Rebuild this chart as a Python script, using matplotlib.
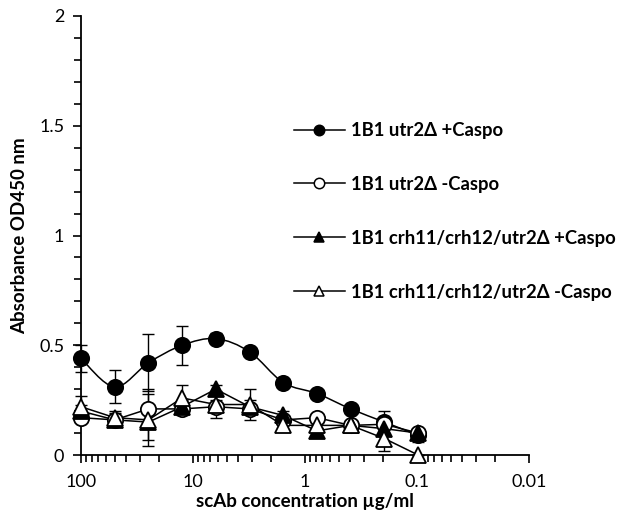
import numpy as np
import matplotlib
matplotlib.use("Agg")
import matplotlib.pyplot as plt
from matplotlib.path import Path
from matplotlib.patches import PathPatch
from matplotlib.lines import Line2D
from matplotlib.ticker import FixedLocator, LogLocator, NullFormatter

plt.rcParams['font.family'] = ['Lato', 'DejaVu Sans']

conc = [100, 50, 25, 12.5, 6.25, 3.125, 1.5625, 0.78125, 0.390625, 0.1953125, 0.09765625]

utr2_plus = [0.44, 0.31, 0.42, 0.50, 0.53, 0.47, 0.33, 0.28, 0.21, 0.15, 0.09]
utr2_plus_err = [0.06, 0.075, 0.13, 0.09, 0.025, 0.015, 0.01, 0.01, 0.01, 0.05, 0.03]
utr2_minus = [0.17, 0.16, 0.21, 0.21, 0.22, 0.21, 0.16, 0.17, 0.135, 0.14, 0.10]
utr2_minus_err = [0.02, 0.02, 0.09, 0.03, 0.03, 0.02, 0.01, 0.01, 0.01, 0.02, 0.02]
crh_plus = [0.20, 0.16, 0.15, 0.22, 0.30, 0.22, 0.18, 0.11, 0.135, 0.12, 0.10]
crh_plus_err = [0.03, 0.03, 0.08, 0.03, 0.02, 0.03, 0.02, 0.01, 0.01, 0.03, 0.02]
crh_minus = [0.22, 0.17, 0.16, 0.26, 0.23, 0.23, 0.135, 0.135, 0.135, 0.075, 0.0]
crh_minus_err = [0.05, 0.03, 0.12, 0.06, 0.06, 0.07, 0.02, 0.01, 0.01, 0.055, 0.0]

labels = ["1B1 utr2Δ +Caspo", "1B1 utr2Δ -Caspo",
          "1B1 crh11/crh12/utr2Δ +Caspo", "1B1 crh11/crh12/utr2Δ -Caspo"]


def smooth_path(xs, ys):
    # Excel style smoothed line: Catmull-Rom segments as cubic beziers in log-x space
    u = np.log10(xs)
    y = np.asarray(ys, dtype=float)
    pts = np.column_stack([u, y])
    verts = [pts[0]]
    codes = [Path.MOVETO]
    n = len(pts)
    for i in range(n - 1):
        p0 = pts[i - 1] if i > 0 else pts[i]
        p1 = pts[i]
        p2 = pts[i + 1]
        p3 = pts[i + 2] if i + 2 < n else pts[i + 1]
        c1 = p1 + (p2 - p0) / 6
        c2 = p2 - (p3 - p1) / 6
        verts += [c1, c2, p2]
        codes += [Path.CURVE4] * 3
    verts = np.array(verts)
    verts[:, 0] = 10 ** verts[:, 0]
    return Path(verts, codes)


fig = plt.figure(figsize=(6.27, 5.16), dpi=100)
ax = fig.add_axes([0.1292, 0.1182, 0.7145, 0.8508])

ms = 11
mew = 1.3
series = [
    (utr2_plus, utr2_plus_err, 'o', 'black', True),
    (utr2_minus, utr2_minus_err, 'o', 'white', False),
    (crh_plus, crh_plus_err, '^', 'black', False),
    (crh_minus, crh_minus_err, '^', 'white', False),
]

for vals, errs, mk, fc, smooth in series:
    eb = ax.errorbar(conc, vals, yerr=errs, fmt='none', ecolor='black', elinewidth=1.0,
                     capsize=4.5, capthick=1.0, zorder=2)
    for art in eb.lines[1] + eb.lines[2]:
        art.set_clip_on(False)
    if smooth:
        ax.add_patch(PathPatch(smooth_path(conc, vals), facecolor='none',
                               edgecolor='black', lw=1.1, zorder=3, clip_on=False))
    else:
        ax.plot(conc, vals, color='black', lw=1.1, zorder=3, clip_on=False)
    ax.plot(conc, vals, linestyle='none', marker=mk, markersize=ms, clip_on=False,
            markerfacecolor=fc, markeredgecolor='black', markeredgewidth=mew, zorder=4)

ax.set_xscale('log')
ax.set_xlim(100, 0.01)
ax.set_ylim(0, 2)
ax.xaxis.set_major_locator(FixedLocator([100, 10, 1, 0.1, 0.01]))
ax.set_xticklabels(["100", "10", "1", "0.1", "0.01"])
ax.xaxis.set_minor_locator(LogLocator(base=10, subs=np.arange(2, 10)))
ax.xaxis.set_minor_formatter(NullFormatter())
ax.set_yticks([0, 0.5, 1, 1.5, 2])
ax.set_yticklabels(["0", "0.5", "1", "1.5", "2"])
ax.set_yticks(np.arange(0, 2.01, 0.1), minor=True)

for s in ['top', 'right']:
    ax.spines[s].set_visible(False)
for s in ['left', 'bottom']:
    ax.spines[s].set_linewidth(1.3)

ax.tick_params(axis='both', which='both', direction='out', width=1.2, labelsize=13)
ax.tick_params(axis='x', which='major', length=6, pad=8)
ax.tick_params(axis='x', which='minor', length=5)
ax.tick_params(axis='y', which='major', length=6, pad=6)
ax.tick_params(axis='y', which='minor', length=5)

ax.set_xlabel("scAb concentration µg/ml", fontsize=13.5, fontweight='bold', labelpad=2)
ax.set_ylabel("Absorbance OD450 nm", fontsize=13.5, fontweight='bold', labelpad=8)

handles = []
for vals, errs, mk, fc, smooth in series:
    handles.append(Line2D([], [], color='black', lw=1.1, marker=mk, markersize=7.5,
                          markerfacecolor=fc, markeredgecolor='black', markeredgewidth=1.1))
leg = ax.legend(handles, labels, loc='upper left', bbox_to_anchor=(294 / 627, 1 - 122 / 516),
                bbox_transform=fig.transFigure, frameon=False, fontsize=13.3,
                handlelength=2.75, handletextpad=0.35, labelspacing=2.0, borderpad=0,
                borderaxespad=0)
for t in leg.get_texts():
    t.set_fontweight('bold')

fig.savefig("out.png", dpi=100)
